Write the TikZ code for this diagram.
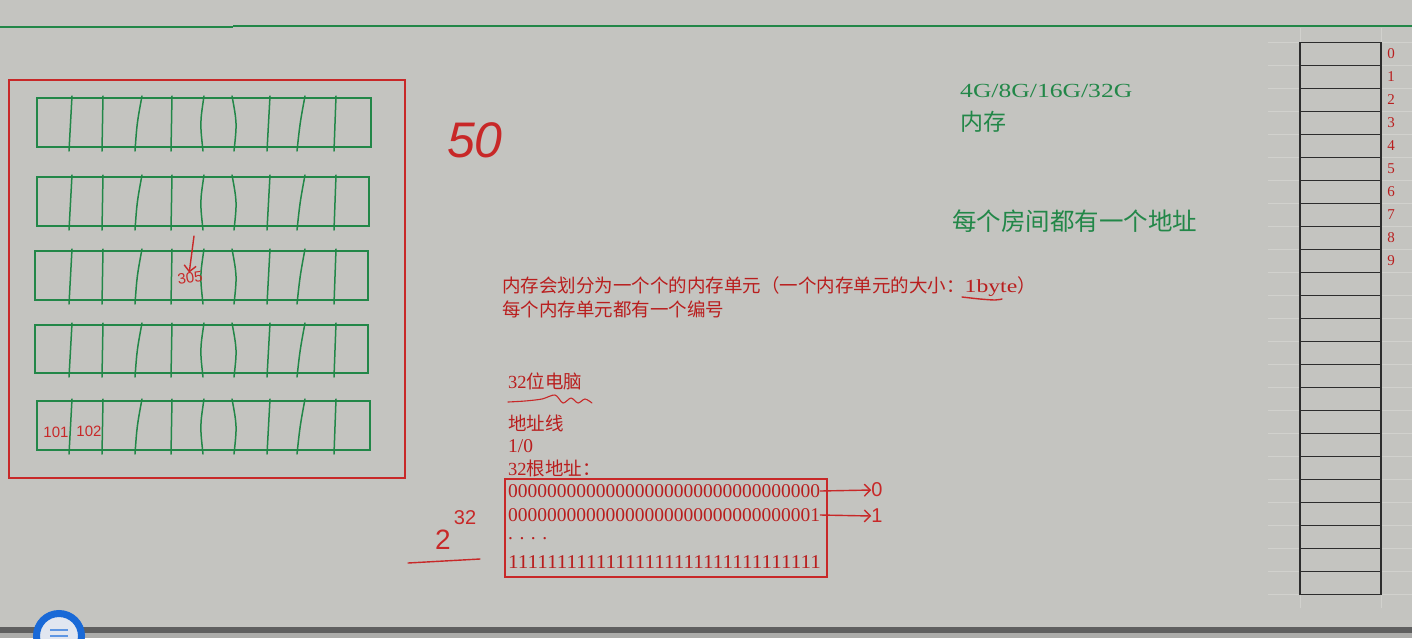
\documentclass[tikz,border=0pt]{standalone}
\usepackage{fontspec}
\setmainfont{Liberation Serif}
\newfontfamily\cjk{Noto Sans CJK SC}
\newfontfamily\hand{Liberation Sans}
\newfontfamily\wide{Liberation Serif}[FakeStretch=1.28]
\usetikzlibrary{arrows.meta}
\definecolor{bg}{RGB}{196,196,192}
\definecolor{pen}{RGB}{200,40,40}
\definecolor{ink}{RGB}{185,30,30}
\definecolor{grn}{RGB}{34,135,72}
\definecolor{gridc}{RGB}{209,209,205}
\definecolor{cellline}{RGB}{45,45,45}
\definecolor{barc}{RGB}{95,95,95}
\definecolor{barlow}{RGB}{172,172,170}
\definecolor{uiblue}{RGB}{25,105,215}
\definecolor{uiin}{RGB}{225,230,240}
\begin{document}
\begin{tikzpicture}[x=1pt,y=-1pt,
  room/.style={draw=grn, line width=2.2pt},
  wall/.style={draw=grn, line width=1.5pt, line cap=round},
  redtxt/.style={text=ink, inner sep=0pt, anchor=west, font=\fontsize{18.5}{18.5}\selectfont},
  bits/.style={text=ink, inner sep=0pt, anchor=west, font=\fontsize{19.5}{19.5}\selectfont},
  grntxt/.style={text=grn, inner sep=0pt, anchor=west},
  handtxt/.style={text=pen, inner sep=0pt, font=\hand},
  penline/.style={draw=pen, line width=1.4pt, line cap=round, line join=round},
  handarrow/.style={penline, -{Straight Barb[length=6pt,width=12pt]}},
  num/.style={text=ink, inner sep=0pt, font=\fontsize{15}{15}\selectfont}]
\fill[bg] (0,0) rectangle (1412,638);
\useasboundingbox (0,0) rectangle (1412,638);
% top green line
\draw[grn, line width=2pt] (0,26.5) -- (233,26.5);
\draw[grn, line width=2pt] (233,25.5) -- (1412,25.5);
% building
\draw[pen, line width=2pt] (9,80) rectangle (405,478);
\foreach \lx/\rx/\ty/\by in {37/371/98/147, 37/369/177/226, 35/368/251/300, 35/368/325/373, 37/370/401/450}{
  \draw[room] (\lx,\ty) rectangle (\rx,\by);
  \foreach \xa/\xm/\xb in {72/70/69,103/103/102,142/137/135,172/172/171,204/200/203,232/237/234,270/268/267,305/300/297,336/335/334}
    \draw[wall] (\xa,\ty-2) .. controls (\xm,\ty+25) .. (\xb,\by+4);
}
\node[handtxt, font=\hand\itshape\fontsize{50}{50}\selectfont] (fifty) at (475,140) {50};
\coordinate (arr305) at (194,236);
\node[handtxt, font=\hand\fontsize{15}{15}\selectfont, rotate=8] (r305) at (190,278) {305};
\draw[handarrow] (arr305) -- (r305.north);
\node[handtxt, font=\hand\fontsize{15}{15}\selectfont] (r101) at (56,432) {101};
\node[handtxt, font=\hand\fontsize{15}{15}\selectfont] (r102) at (89,431) {102};
% right column (spreadsheet)
\foreach \i in {0,...,24} \draw[gridc, line width=1pt] (1268,{42.5+23*\i}) -- (1412,{42.5+23*\i});
\draw[gridc, line width=1pt] (1300,28) -- (1300,608) (1381,28) -- (1381,608);
\draw[cellline, line width=1.3pt] (1300,42.5) rectangle (1381,594.5);
\foreach \i in {1,...,23} \draw[cellline, line width=1.5pt] (1300,{42.5+23*\i}) -- (1381,{42.5+23*\i});
\foreach \i in {0,...,9} \node[num] (n\i) at (1391,{54+23*\i}) {\i};
% green texts
\node[grntxt, font=\wide\fontsize{20}{20}\selectfont] (cap) at (960,91) {4G/8G/16G/32G};
\node[grntxt, font=\cjk\fontsize{23}{23}\selectfont] (mem) at (960,122) {内存};
\node[grntxt, font=\cjk\fontsize{24.5}{24.5}\selectfont] (room) at (952,221) {每个房间都有一个地址};
% red texts
\node[redtxt] (l1) at (502,287) {{\cjk 内存会划分为一个个的内存单元（一个内存单元的大小：}{\wide 1byte}{\cjk ）}};
\node[redtxt, font=\cjk\fontsize{18.5}{18.5}\selectfont] (l2) at (502,309) {每个内存单元都有一个编号};
\draw[penline] plot[smooth] coordinates {(962,297) (980,299) (995,300) (1002,299)};
\node[redtxt] (pc) at (508,381) {32{\cjk 位电脑}};
\draw[penline, line width=1.1pt] plot[smooth] coordinates {(508,402) (525,401) (542,399) (555,395) (563,403) (571,398) (578,403) (585,399) (592,403)};
\node[redtxt, font=\cjk\fontsize{18.5}{18.5}\selectfont] (addrline) at (508,423) {地址线};
\node[bits] (onezero) at (508,446) {1/0};
\node[redtxt] (n32) at (508,468) {32{\cjk 根地址：}};
\node[draw=pen, line width=2pt, minimum width=322pt, minimum height=98pt, inner sep=0pt] (addr) at (666,528) {};
\node[bits] (row0) at (508,491) {00000000000000000000000000000000};
\node[bits] (row1) at (508,515) {00000000000000000000000000000001};
\node[bits] (dots) at (508,539) {. . . .};
\node[bits] (rowf) at (508,562) {\scalebox{1.08}[1]{11111111111111111111111111111111}};
\node[handtxt, font=\hand\fontsize{20}{20}\selectfont] (lbl0) at (877,490) {0};
\node[handtxt, font=\hand\fontsize{20}{20}\selectfont] (lbl1) at (877,516) {1};
\draw[handarrow] (row0.east) -- (lbl0.west);
\draw[handarrow] (row1.east) -- (lbl1.west);
% 2^32
\node[handtxt, font=\hand\fontsize{28}{28}\selectfont] (two) at (443,540) {2};
\node[handtxt, font=\hand\fontsize{20}{20}\selectfont] (exp) at (465,518) {32};
\coordinate (ula) at (408,563);
\coordinate (ulb) at (480,559);
\draw[penline] (ula) -- (ulb);
% bottom bar and UI button
\fill[barlow] (0,633) rectangle (1412,638);
\fill[barc] (0,627) rectangle (1412,633);
\begin{scope}
\clip (0,0) rectangle (1412,638);
\fill[uiin] (59,636) circle (22);
\draw[uiblue, line width=7pt] (59,636) circle (22.5);
\draw[uiblue!70, line width=2pt] (50,630) -- (68,630) (50,636) -- (68,636);
\end{scope}
\end{tikzpicture}
\end{document}
